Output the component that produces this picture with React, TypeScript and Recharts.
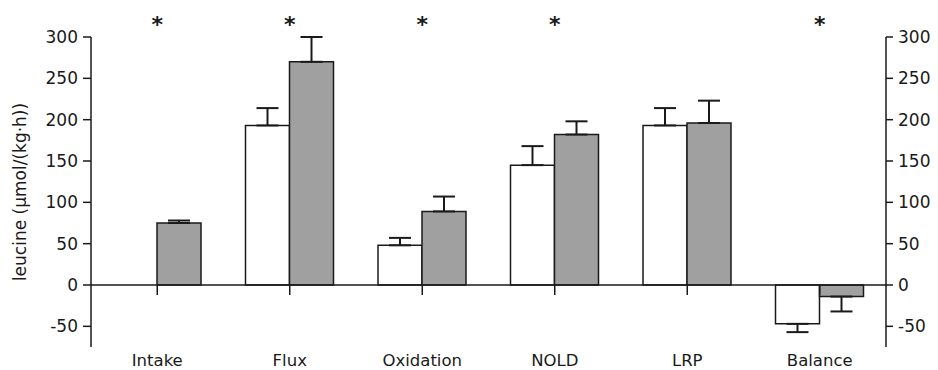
import { BarChart, Bar, XAxis, YAxis, ErrorBar, ReferenceLine } from "recharts"

const categories = ["Intake", "Flux", "Oxidation", "NOLD", "LRP", "Balance"]
const whiteMeans = [null, 193, 48, 145, 193, -47]
const whiteErrors = [null, 21, 9, 23, 21, 10]
const grayMeans = [75, 270, 89, 182, 196, -14]
const grayErrors = [3, 30, 18, 16, 27, 18]
const significant = [true, true, true, true, false, true]
const yTicks = [-50, 0, 50, 100, 150, 200, 250, 300]

// one-sided error bars, pointing away from zero
function oneSided(mean: number | null, err: number | null) {
  if (mean === null || err === null) return null
  return mean >= 0 ? [0, err] : [err, 0]
}

const data = categories.map((name, i) => ({
  name,
  white: whiteMeans[i],
  whiteErr: oneSided(whiteMeans[i], whiteErrors[i]),
  gray: grayMeans[i],
  grayErr: oneSided(grayMeans[i], grayErrors[i]),
}))

const FONT = "'DejaVu Sans', Verdana, sans-serif"
const INK = "#1a1a1a"

export default function App() {
  return (
    <div style={{ position: "absolute", left: 0, top: 0, width: 938, height: 370, background: "#fff" }}>
      <BarChart
        width={938}
        height={370}
        data={data}
        margin={{ top: 0, right: 0, left: 0, bottom: 0 }}
        barGap={0}
        barSize={44}
      >
        <XAxis
          dataKey="name"
          xAxisId="bottom"
          height={23}
          axisLine={false}
          tickLine={false}
          tickMargin={1}
          interval={0}
          tick={{ fill: INK, fontSize: 16.5, fontFamily: FONT }}
        />
        <XAxis
          dataKey="name"
          xAxisId="top"
          orientation="top"
          height={37}
          axisLine={false}
          tickLine={false}
          interval={0}
          tickMargin={0}
          tickFormatter={(v: string) => (significant[categories.indexOf(v)] ? "*" : "")}
          tick={{ fill: INK, fontSize: 22, fontFamily: FONT, fontWeight: 700, dy: 1 }}
        />
        <YAxis
          yAxisId="left"
          width={91}
          domain={[-75, 300]}
          ticks={yTicks}
          interval={0}
          allowDataOverflow
          stroke={INK}
          strokeWidth={1.5}
          tickSize={8}
          tickMargin={5}
          tick={{ fill: INK, fontSize: 17, fontFamily: FONT }}
          label={{
            value: "leucine (μmol/(kg·h))",
            angle: -90,
            position: "insideLeft",
            offset: 20,
            style: { textAnchor: "middle", fill: INK, fontSize: 17, fontFamily: FONT },
          }}
        />
        <YAxis
          yAxisId="right"
          orientation="right"
          width={52}
          domain={[-75, 300]}
          ticks={yTicks}
          interval={0}
          allowDataOverflow
          stroke={INK}
          strokeWidth={1.5}
          tickSize={7}
          tickMargin={5}
          tick={{ fill: INK, fontSize: 17, fontFamily: FONT }}
        />
        <ReferenceLine yAxisId="left" xAxisId="bottom" y={0} stroke={INK} strokeWidth={1.5} />
        {categories.map((c) => (
          <ReferenceLine
            key={c}
            yAxisId="left"
            xAxisId="bottom"
            segment={[{ x: c, y: 0 }, { x: c, y: -12 }]}
            stroke={INK}
            strokeWidth={1.5}
          />
        ))}
        <Bar dataKey="white" xAxisId="bottom" yAxisId="left" fill="#ffffff" stroke={INK} strokeWidth={1.5} isAnimationActive={false}>
          <ErrorBar dataKey="whiteErr" direction="y" width={11} stroke={INK} strokeWidth={2} />
        </Bar>
        <Bar dataKey="gray" xAxisId="bottom" yAxisId="left" fill="#a0a0a0" stroke={INK} strokeWidth={1.5} isAnimationActive={false}>
          <ErrorBar dataKey="grayErr" direction="y" width={11} stroke={INK} strokeWidth={2} />
        </Bar>
      </BarChart>
    </div>
  )
}
